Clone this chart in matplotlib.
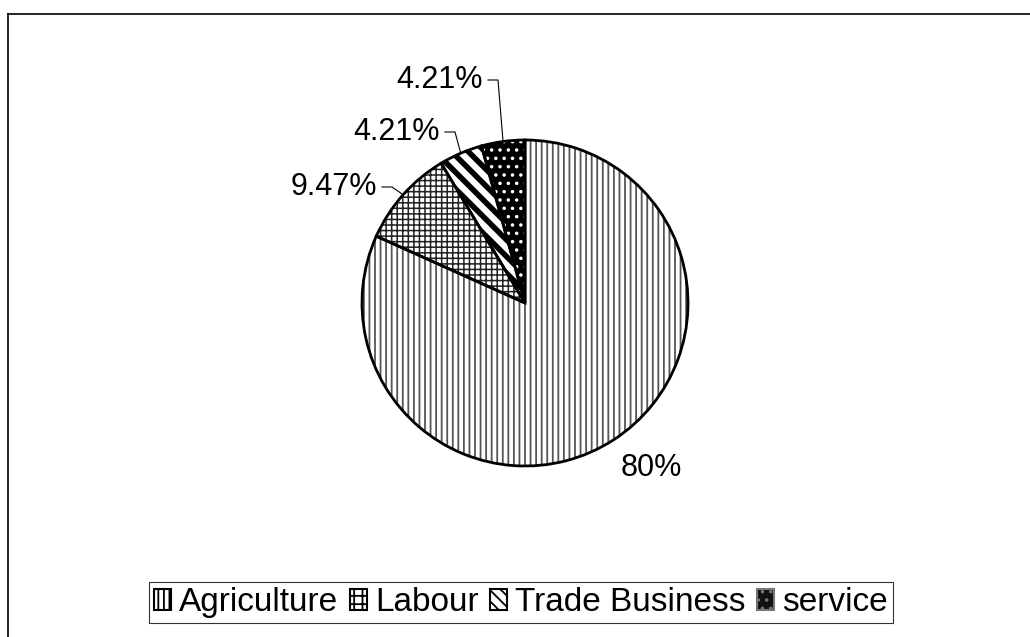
import numpy as np
import matplotlib
matplotlib.use("Agg")
import matplotlib.pyplot as plt
from matplotlib.patches import Patch
from matplotlib.lines import Line2D

plt.rcParams['font.family'] = ['Liberation Sans', 'DejaVu Sans']
plt.rcParams['hatch.linewidth'] = 1.3

# occupation shares (%)
categories = ["Agriculture", "Labour", "Trade Business", "service"]
shares = [80, 9.47, 4.21, 4.21]
labels = ["80%", "9.47%", "4.21%", "4.21%"]

hatches = ["|||", "+++", "\\\\", ".."]
faces = ["white", "white", "white", "black"]
hatch_cols = ["#555555", "#222222", "black", "white"]
hatch_lw = [1.3, 1.1, 4.0, 1.3]

fig = plt.figure(figsize=(10.30, 6.37), dpi=100)
ax = fig.add_axes([0, 0, 1, 1])

cx, cy, r = 525, 334, 163

# filled hatched wedges, then black outlines on top
wedges, _ = ax.pie(shares, startangle=90, counterclock=False,
                   center=(cx, cy), radius=r,
                   wedgeprops=dict(linewidth=0))
for w, h, fc, hc, hl in zip(wedges, hatches, faces, hatch_cols, hatch_lw):
    w.set_facecolor(fc)
    w.set_edgecolor(hc)
    w.set_hatch(h)
    if hasattr(w, "set_hatch_linewidth"):
        w.set_hatch_linewidth(hl)
ax.pie(shares, startangle=90, counterclock=False, center=(cx, cy), radius=r,
       wedgeprops=dict(fill=False, edgecolor="black", linewidth=2.0))

# label positions (text anchor) and leader elbows
text_pos = [(651, 169, "center"), (377, 450, "right"),
            (440, 505, "right"), (483, 557, "right")]
for i, (w, lab) in enumerate(zip(wedges, labels)):
    tx, ty, ha = text_pos[i]
    ax.text(tx, ty, lab, fontsize=22, ha=ha, va="center")
    if i == 0:
        continue
    mid = np.deg2rad((w.theta1 + w.theta2) / 2)
    ex, ey = cx + r * np.cos(mid), cy + r * np.sin(mid)
    x0 = tx + 5
    ax.plot([x0, x0 + 10, ex], [ty, ty, ey], color="black", lw=0.8)

ax.set_xlim(0, 1030)
ax.set_ylim(0, 637)
ax.set_aspect("auto")
ax.axis("off")

# chart border (top and left edges)
fig.add_artist(Line2D([8 / 1030, 1.0], [1 - 14 / 637, 1 - 14 / 637],
                      color="black", lw=1.2, transform=fig.transFigure))
fig.add_artist(Line2D([8 / 1030, 8 / 1030], [1 - 14 / 637, 0],
                      color="black", lw=1.2, transform=fig.transFigure))

handles = [Patch(facecolor="white", edgecolor="black", hatch="|||", lw=1.5),
           Patch(facecolor="white", edgecolor="black", hatch="++", lw=1.5),
           Patch(facecolor="white", edgecolor="black", hatch="\\\\\\", lw=1.5),
           Patch(facecolor="#111111", edgecolor="#777777", hatch="..", lw=1.5)]
leg = fig.legend(handles, categories, loc="center", ncol=4,
                 bbox_to_anchor=(521 / 1030, 34.5 / 637),
                 fontsize=24, frameon=True, fancybox=False,
                 handlelength=0.5, handleheight=0.6, handletextpad=0.25,
                 columnspacing=0.35, borderpad=0.15, borderaxespad=0)
leg.get_frame().set_edgecolor("black")
leg.get_frame().set_linewidth(0.8)

fig.savefig("out.png", dpi=100)
